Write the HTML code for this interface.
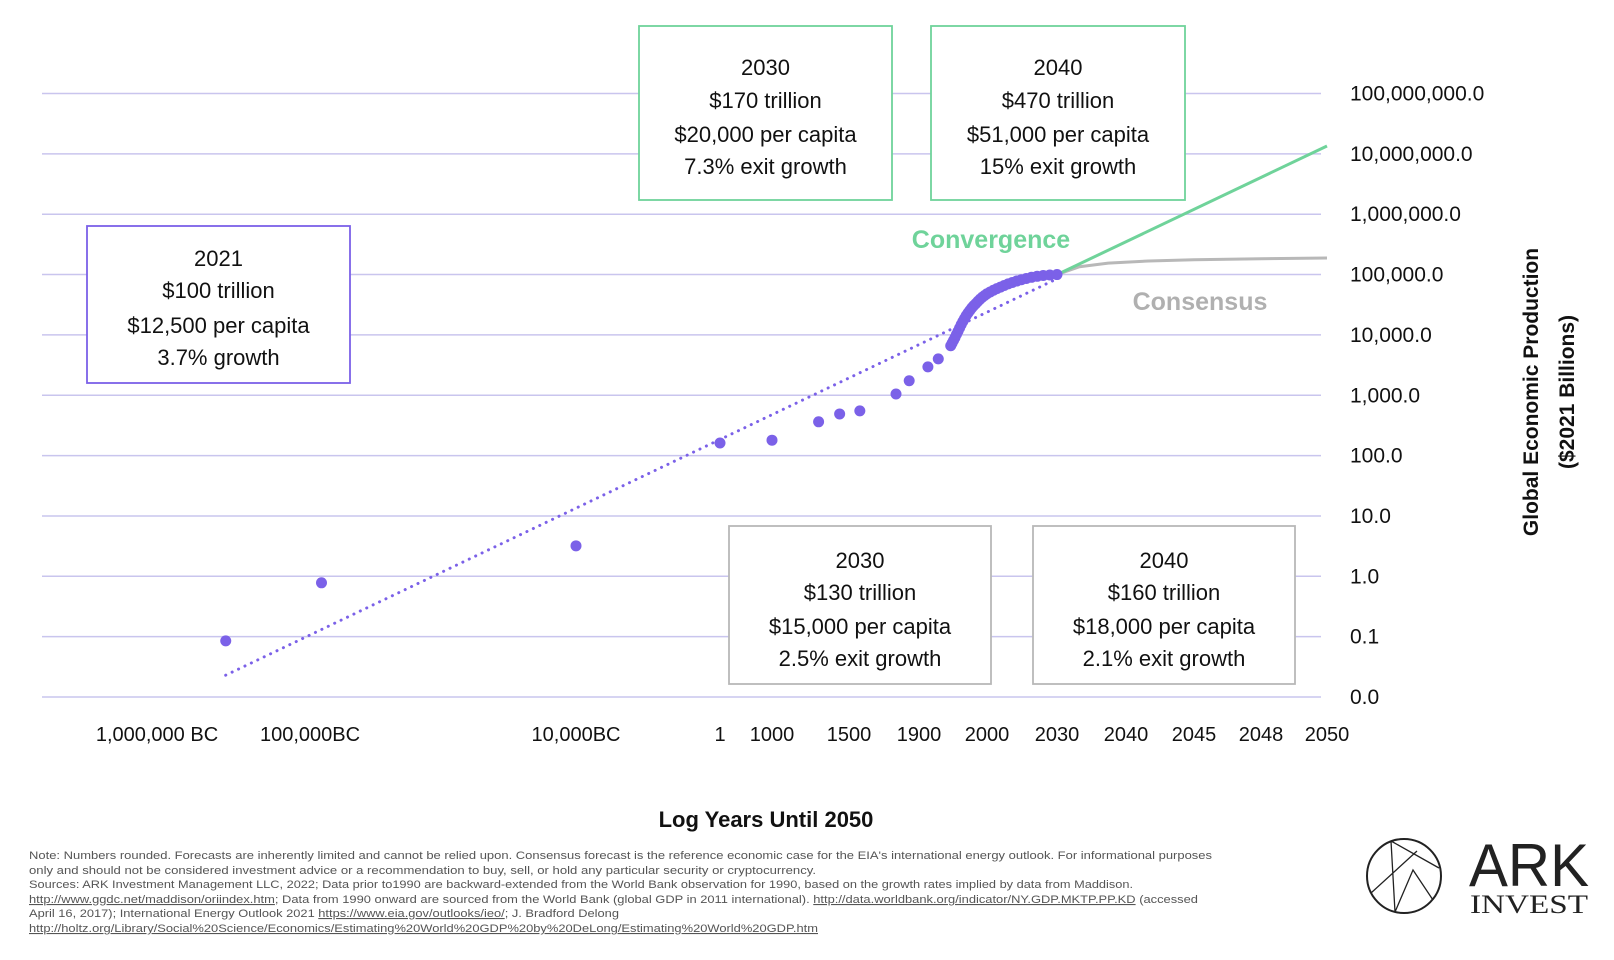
<!DOCTYPE html>
<html><head><meta charset="utf-8"><style>
html,body{margin:0;padding:0;background:#fff;}
svg{display:block;font-family:"Liberation Sans",sans-serif;}
</style></head><body>
<svg id="chart" width="1614" height="960" viewBox="0 0 1614 960">
<g id="grid"></g>
<g id="yticks"></g>
<g id="xticks"></g>
<g id="series"></g>
<g id="boxes"></g>
<text x="991" y="248" text-anchor="middle" font-size="25" font-weight="bold" fill="#6fd39a">Convergence</text>
<text x="1200" y="310" text-anchor="middle" font-size="25" font-weight="bold" fill="#b0b0b0">Consensus</text>
<text x="766" y="827" text-anchor="middle" font-size="22" font-weight="bold" fill="#111">Log Years Until 2050</text>
<g transform="translate(1538,392) rotate(-90)">
<text x="0" y="0" text-anchor="middle" font-size="21" font-weight="bold" fill="#111">Global Economic Production</text>
<text x="0" y="36" text-anchor="middle" font-size="21" font-weight="bold" fill="#111">($2021 Billions)</text>
</g>
<g font-size="11" fill="#555">
<text x="29" y="859" textLength="1183" lengthAdjust="spacingAndGlyphs">Note: Numbers rounded. Forecasts are inherently limited and cannot be relied upon. Consensus forecast is the reference economic case for the EIA's international energy outlook. For informational purposes</text>
<text x="29" y="874" textLength="787" lengthAdjust="spacingAndGlyphs">only and should not be considered investment advice or a recommendation to buy, sell, or hold any particular security or cryptocurrency.</text>
<text x="29" y="888" textLength="1104" lengthAdjust="spacingAndGlyphs">Sources: ARK Investment Management LLC, 2022; Data prior to1990 are backward-extended from the World Bank observation for 1990, based on the growth rates implied by data from Maddison.</text>
<text x="29" y="903" textLength="1169" lengthAdjust="spacingAndGlyphs"><tspan text-decoration="underline">http://www.ggdc.net/maddison/oriindex.htm</tspan>; Data from 1990 onward are sourced from the World Bank (global GDP in 2011 international). <tspan text-decoration="underline">http://data.worldbank.org/indicator/NY.GDP.MKTP.PP.KD</tspan> (accessed</text>
<text x="29" y="917" textLength="590" lengthAdjust="spacingAndGlyphs">April 16, 2017); International Energy Outlook 2021 <tspan text-decoration="underline">https://www.eia.gov/outlooks/ieo/</tspan>; J. Bradford Delong</text>
<text x="29" y="932" textLength="789" lengthAdjust="spacingAndGlyphs" text-decoration="underline">http://holtz.org/Library/Social%20Science/Economics/Estimating%20World%20GDP%20by%20DeLong/Estimating%20World%20GDP.htm</text>
</g>
<g>
<circle cx="1404" cy="876" r="37" fill="none" stroke="#222" stroke-width="2"/>
<path d="M1391,841 L1395,912 M1391,841 L1439,868 M1371,893 L1417,851 M1395,912 L1413,870 L1433,900" fill="none" stroke="#222" stroke-width="1.3"/>
<text x="1529" y="886" text-anchor="middle" font-family="Liberation Sans" font-size="60" fill="#222" textLength="120" lengthAdjust="spacingAndGlyphs">ARK</text>
<text x="1529" y="913" text-anchor="middle" font-family="Liberation Serif" font-size="26" fill="#222" textLength="118" lengthAdjust="spacingAndGlyphs">INVEST</text>
</g>
</svg>
<script>
const yTickLabels = ["0.0","0.1","1.0","10.0","100.0","1,000.0","10,000.0","100,000.0","1,000,000.0","10,000,000.0","100,000,000.0"];
const yTickLogs = [-2,-1,0,1,2,3,4,5,6,7,8];
const xTickLabels = ["1,000,000 BC","100,000BC","10,000BC","1","1000","1500","1900","2000","2030","2040","2045","2048","2050"];
const xTickYears = [-1000000,-100000,-10000,1,1000,1500,1900,2000,2030,2040,2045,2048,2050];
const histYears = [-357000,-91000,-10000,1,1000,1340,1455,1600,1820,1870,1920,1940,1960,1962,1964,1966,1968,1970,1972,1974,1976,1978,1980,1982,1984,1986,1988,1990,1992,1994,1996,1998,2000,2002,2004,2006,2008,2010,2012,2014,2016,2018,2020,2022,2024,2026,2028,2030];
const histValues = [0.085,0.78,3.2,162,180,363,490,550,1050,1740,2950,4000,6600,7300,8100,9000,10200,11500,13000,14800,16700,18700,21000,23200,25500,28000,30500,33000,36000,39000,42000,45000,48000,51500,55000,58500,62000,66000,70000,74000,78000,82000,86000,90000,93500,96500,98500,100000];
const trendYears = [-357000,2030];
const trendValues = [0.023,85000];
const convYears = [2030,2050];
const convValues = [100000,13500000];
const consYears = [2030,2034,2038,2042,2045,2048,2050];
const consValues = [100000,135000,155000,168000,176000,183000,188000];

const SVGNS="http://www.w3.org/2000/svg";
const X0=42, X1=1321, Y0=697, DY=60.35;
const xTickPx=[157,310,576,720,772,849,919,987,1057,1126,1194,1261,1327];
function yScale(v){return Y0-(Math.log10(v)+2)*DY;}
function yLog(l){return Y0-(l+2)*DY;}
function xScale(year){
  const l=Math.log10(2051-year);
  const ls=xTickYears.map(t=>Math.log10(2051-t));
  for(let i=0;i<ls.length-1;i++){
    if(l<=ls[i]&&l>=ls[i+1]){const f=(ls[i]-l)/(ls[i]-ls[i+1]);return xTickPx[i]+f*(xTickPx[i+1]-xTickPx[i]);}
  }
  return l>ls[0]?xTickPx[0]:xTickPx[xTickPx.length-1];
}
function mk(tag,attrs,parent){const e=document.createElementNS(SVGNS,tag);for(const k in attrs)e.setAttribute(k,attrs[k]);parent.appendChild(e);return e;}
const grid=document.getElementById('grid'), yt=document.getElementById('yticks'), xt=document.getElementById('xticks'), ser=document.getElementById('series');
yTickLogs.forEach((l,i)=>{
  const ln=mk('line',{x1:X0,x2:X1,y1:yLog(l),y2:yLog(l),stroke:'#c9c5ee','stroke-width':1.5},grid);
  
  
  const t=mk('text',{x:1350,y:yLog(l)+7,'font-size':21,fill:'#111'},yt);
  t.textContent=yTickLabels[i];
  
  
});
xTickYears.forEach((yr,i)=>{
  const t=mk('text',{x:xScale(yr),y:741,'font-size':20,fill:'#111','text-anchor':'middle'},xt);
  t.textContent=xTickLabels[i];
  
  
});
function pathOf(ys,vs){return ys.map((y,i)=>(i?'L':'M')+xScale(y).toFixed(1)+','+yScale(vs[i]).toFixed(1)).join(' ');}
const tr=mk('path',{d:pathOf(trendYears,trendValues),stroke:'#7b61e8','stroke-width':3,'stroke-dasharray':'0.1 7','stroke-linecap':'round',fill:'none'},ser);


const cs=mk('path',{d:pathOf(consYears,consValues),stroke:'#b8b8b8','stroke-width':3,fill:'none'},ser);


const cv=mk('path',{d:pathOf(convYears,convValues),stroke:'#6fd39a','stroke-width':3,fill:'none'},ser);


histYears.forEach((yr,i)=>{
  const c=mk('circle',{cx:xScale(yr),cy:yScale(histValues[i]),r:5.5,fill:'#7b61e8'},ser);
  
  
});
const boxes=[
 {x:639,y:26,w:253,h:174,c:'#6fd39a',ty:[67,100,134,166],lines:["2030","$170 trillion","$20,000 per capita","7.3% exit growth"],n:'convergence-2030-box'},
 {x:931,y:26,w:254,h:174,c:'#6fd39a',ty:[67,100,134,166],lines:["2040","$470 trillion","$51,000 per capita","15% exit growth"],n:'convergence-2040-box'},
 {x:87,y:226,w:263,h:157,c:'#7b61e8',ty:[258,290,325,357],lines:["2021","$100 trillion","$12,500 per capita","3.7% growth"],n:'current-2021-box'},
 {x:729,y:526,w:262,h:158,c:'#b8b8b8',ty:[560,592,626,658],lines:["2030","$130 trillion","$15,000 per capita","2.5% exit growth"],n:'consensus-2030-box'},
 {x:1033,y:526,w:262,h:158,c:'#b8b8b8',ty:[560,592,626,658],lines:["2040","$160 trillion","$18,000 per capita","2.1% exit growth"],n:'consensus-2040-box'}
];
const bg=document.getElementById('boxes');
boxes.forEach(b=>{
  const g=mk('g',{},bg);
  
  
  mk('rect',{x:b.x,y:b.y,width:b.w,height:b.h,fill:'#fff',stroke:b.c,'stroke-width':1.8},g);
  b.lines.forEach((s,i)=>{const t=mk('text',{x:b.x+b.w/2,y:b.ty[i]+8,'text-anchor':'middle','font-size':22,fill:'#111'},g);t.textContent=s;});
});
</script>
</body></html>
